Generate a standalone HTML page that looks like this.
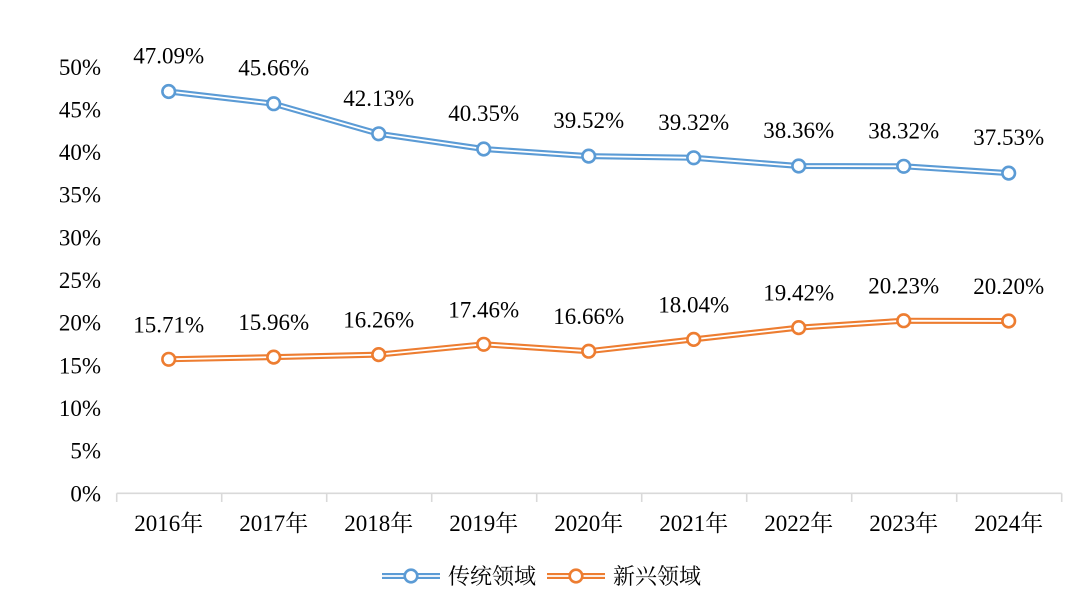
<!DOCTYPE html>
<html>
<head>
<meta charset="utf-8">
<style>
html,body{margin:0;padding:0;background:#fff;}
svg{display:block;}
text{font-family:"Liberation Serif","Noto Serif CJK SC",serif;fill:#000;}
</style>
</head>
<body>
<svg width="1092" height="616" viewBox="0 0 1092 616" xmlns="http://www.w3.org/2000/svg">
<rect width="1092" height="616" fill="#fff"/>
<!-- Y axis labels -->
<g font-size="23" text-anchor="end">
<text x="101" y="501.3">0%</text>
<text x="101" y="458.7">5%</text>
<text x="101" y="416.0">10%</text>
<text x="101" y="373.4">15%</text>
<text x="101" y="330.7">20%</text>
<text x="101" y="288.0">25%</text>
<text x="101" y="245.4">30%</text>
<text x="101" y="202.7">35%</text>
<text x="101" y="160.1">40%</text>
<text x="101" y="117.4">45%</text>
<text x="101" y="74.8">50%</text>
</g>
<!-- X axis -->
<g stroke="#D9D9D9" stroke-width="1.6" fill="none">
<line x1="116.7" y1="493.3" x2="1061.7" y2="493.3"/>
<line x1="116.7" y1="493.3" x2="116.7" y2="502"/>
<line x1="221.7" y1="493.3" x2="221.7" y2="502"/>
<line x1="326.7" y1="493.3" x2="326.7" y2="502"/>
<line x1="431.7" y1="493.3" x2="431.7" y2="502"/>
<line x1="536.7" y1="493.3" x2="536.7" y2="502"/>
<line x1="641.7" y1="493.3" x2="641.7" y2="502"/>
<line x1="746.7" y1="493.3" x2="746.7" y2="502"/>
<line x1="851.7" y1="493.3" x2="851.7" y2="502"/>
<line x1="956.7" y1="493.3" x2="956.7" y2="502"/>
<line x1="1061.7" y1="493.3" x2="1061.7" y2="502"/>
</g>
<g font-size="23" text-anchor="middle">
<text x="168.7" y="531">2016年</text>
<text x="273.7" y="531">2017年</text>
<text x="378.7" y="531">2018年</text>
<text x="483.7" y="531">2019年</text>
<text x="588.7" y="531">2020年</text>
<text x="693.7" y="531">2021年</text>
<text x="798.7" y="531">2022年</text>
<text x="903.7" y="531">2023年</text>
<text x="1008.7" y="531">2024年</text>
</g>
<!-- Blue series -->
<polyline points="168.7,91.5 273.7,103.7 378.7,133.8 483.7,149.0 588.7,156.1 693.7,157.8 798.7,166.0 903.7,166.3 1008.7,173.1" fill="none" stroke="#5B9BD5" stroke-width="6" stroke-linejoin="round"/>
<polyline points="168.7,91.5 273.7,103.7 378.7,133.8 483.7,149.0 588.7,156.1 693.7,157.8 798.7,166.0 903.7,166.3 1008.7,173.1" fill="none" stroke="#fff" stroke-width="1.8" stroke-linejoin="round"/>
<g fill="#fff" stroke="#5B9BD5" stroke-width="2.6">
<circle cx="168.7" cy="91.5" r="6.3"/>
<circle cx="273.7" cy="103.7" r="6.3"/>
<circle cx="378.7" cy="133.8" r="6.3"/>
<circle cx="483.7" cy="149.0" r="6.3"/>
<circle cx="588.7" cy="156.1" r="6.3"/>
<circle cx="693.7" cy="157.8" r="6.3"/>
<circle cx="798.7" cy="166.0" r="6.3"/>
<circle cx="903.7" cy="166.3" r="6.3"/>
<circle cx="1008.7" cy="173.1" r="6.3"/>
</g>
<!-- Orange series -->
<polyline points="168.7,359.3 273.7,357.1 378.7,354.6 483.7,344.3 588.7,351.2 693.7,339.4 798.7,327.6 903.7,320.7 1008.7,321.0" fill="none" stroke="#ED7D31" stroke-width="6" stroke-linejoin="round"/>
<polyline points="168.7,359.3 273.7,357.1 378.7,354.6 483.7,344.3 588.7,351.2 693.7,339.4 798.7,327.6 903.7,320.7 1008.7,321.0" fill="none" stroke="#fff" stroke-width="1.8" stroke-linejoin="round"/>
<g fill="#fff" stroke="#ED7D31" stroke-width="2.6">
<circle cx="168.7" cy="359.3" r="6.3"/>
<circle cx="273.7" cy="357.1" r="6.3"/>
<circle cx="378.7" cy="354.6" r="6.3"/>
<circle cx="483.7" cy="344.3" r="6.3"/>
<circle cx="588.7" cy="351.2" r="6.3"/>
<circle cx="693.7" cy="339.4" r="6.3"/>
<circle cx="798.7" cy="327.6" r="6.3"/>
<circle cx="903.7" cy="320.7" r="6.3"/>
<circle cx="1008.7" cy="321.0" r="6.3"/>
</g>
<!-- Data labels -->
<g font-size="23" text-anchor="middle">
<text x="168.7" y="63.5">47.09%</text>
<text x="273.7" y="75.7">45.66%</text>
<text x="378.7" y="105.8">42.13%</text>
<text x="483.7" y="121.0">40.35%</text>
<text x="588.7" y="128.1">39.52%</text>
<text x="693.7" y="129.8">39.32%</text>
<text x="798.7" y="138.0">38.36%</text>
<text x="903.7" y="138.3">38.32%</text>
<text x="1008.7" y="145.1">37.53%</text>
<text x="168.7" y="332.3">15.71%</text>
<text x="273.7" y="330.1">15.96%</text>
<text x="378.7" y="327.6">16.26%</text>
<text x="483.7" y="317.3">17.46%</text>
<text x="588.7" y="324.2">16.66%</text>
<text x="693.7" y="312.4">18.04%</text>
<text x="798.7" y="300.6">19.42%</text>
<text x="903.7" y="293.7">20.23%</text>
<text x="1008.7" y="294.0">20.20%</text>
</g>
<!-- Legend -->
<line x1="382" y1="576" x2="440" y2="576" stroke="#5B9BD5" stroke-width="6"/>
<line x1="382" y1="576" x2="440" y2="576" stroke="#fff" stroke-width="1.8"/>
<circle cx="411" cy="576" r="6.3" fill="#fff" stroke="#5B9BD5" stroke-width="2.6"/>
<text x="448" y="584" font-size="22">传统领域</text>
<line x1="547" y1="576" x2="605" y2="576" stroke="#ED7D31" stroke-width="6"/>
<line x1="547" y1="576" x2="605" y2="576" stroke="#fff" stroke-width="1.8"/>
<circle cx="576" cy="576" r="6.3" fill="#fff" stroke="#ED7D31" stroke-width="2.6"/>
<text x="613" y="584" font-size="22">新兴领域</text>
</svg>
</body>
</html>
